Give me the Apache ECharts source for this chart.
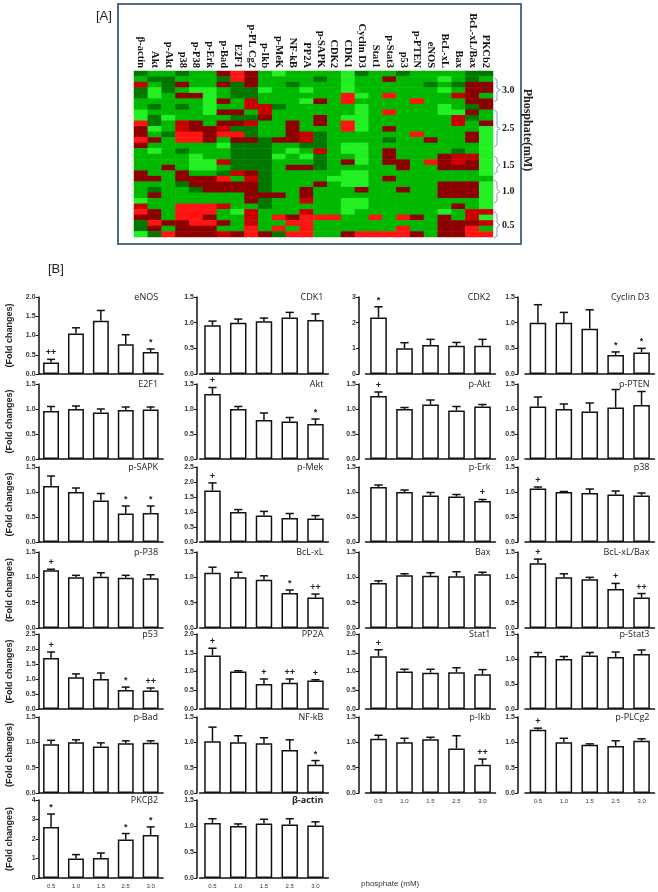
<!DOCTYPE html>
<html><head><meta charset="utf-8">
<script src="https://cdn.jsdelivr.net/npm/echarts@6.0.0/dist/echarts.min.js"></script>
<style>html,body{margin:0;padding:0;background:#fff}#c{width:658px;height:892px}</style>
</head><body><div id="c"></div><script>
// ---------- DATA ----------
const doses = ['0.5','1.0','1.5','2.5','3.0'];
const panelNames = ['eNOS','CDK1','CDK2','Cyclin D3','E2F1','Akt','p-Akt','p-PTEN','p-SAPK','p-Mek','p-Erk','p38','p-P38','BcL-xL','Bax','BcL-xL/Bax','p53','PP2A','Stat1','p-Stat3','p-Bad','NF-kB','p-Ikb','p-PLCg2','PKCβ2','β-actin'];
const barMeans = [
  [0.30,1.05,1.38,0.77,0.57],[0.95,1.00,1.03,1.10,1.05],[2.20,1.00,1.13,1.10,1.10],[1.00,1.00,0.88,0.37,0.42],
  [0.96,1.00,0.93,0.98,0.99],[1.30,1.00,0.78,0.75,0.70],[1.26,1.00,1.09,0.97,1.05],[1.05,1.00,0.95,1.03,1.08],
  [1.12,1.00,0.83,0.57,0.58],[1.72,1.00,0.88,0.80,0.78],[1.10,1.00,0.93,0.91,0.82],[1.07,1.00,0.98,0.95,0.93],
  [1.14,1.00,1.01,0.99,0.98],[1.09,1.00,0.95,0.69,0.60],[0.89,1.04,1.03,1.02,1.06],[1.28,1.00,0.96,0.77,0.60],
  [1.70,1.06,1.00,0.63,0.62],[1.43,1.00,0.67,0.70,0.76],[1.41,1.00,0.97,0.98,0.93],[1.06,1.00,1.07,1.04,1.10],
  [0.96,1.00,0.92,0.98,0.99],[1.02,1.00,0.98,0.85,0.56],[1.07,1.00,1.06,0.88,0.56],[1.25,1.00,0.95,0.93,1.03],
  [2.62,1.00,1.02,1.97,2.20],[1.06,1.00,1.05,1.03,1.01]
];
const barErrors = [
  [0.08,0.15,0.27,0.25,0.08],[0.08,0.07,0.06,0.10,0.12],[0.42,0.22,0.22,0.13,0.25],[0.35,0.20,0.37,0.06,0.08],
  [0.09,0.06,0.07,0.06,0.05],[0.13,0.05,0.14,0.08,0.10],[0.08,0.03,0.09,0.08,0.04],[0.19,0.10,0.17,0.36,0.27],
  [0.20,0.08,0.14,0.15,0.14],[0.25,0.08,0.14,0.15,0.10],[0.04,0.04,0.06,0.04,0.03],[0.03,0.01,0.08,0.07,0.05],
  [0.02,0.04,0.08,0.05,0.07],[0.11,0.10,0.08,0.06,0.07],[0.04,0.03,0.06,0.09,0.04],[0.08,0.07,0.04,0.11,0.08],
  [0.20,0.11,0.20,0.10,0.08],[0.19,0.02,0.13,0.10,0.02],[0.17,0.06,0.09,0.12,0.12],[0.07,0.05,0.06,0.10,0.08],
  [0.08,0.05,0.07,0.05,0.04],[0.28,0.13,0.11,0.20,0.08],[0.07,0.08,0.04,0.25,0.11],[0.03,0.08,0.02,0.10,0.04],
  [0.66,0.20,0.26,0.31,0.42],[0.08,0.04,0.08,0.11,0.07]
];
const barSigns = [
  ['++','','','','*'],['','','','',''],['*','','','',''],['','','','*','*'],
  ['','','','',''],['+','','','','*'],['+','','','',''],['','','','',''],
  ['','','','*','*'],['+','','','',''],['','','','','+'],['+','','','',''],
  ['+','','','',''],['','','','*','++'],['','','','',''],['+','','','+','++'],
  ['+','','','*','++'],['+','','+','++','+'],['+','','','',''],['','','','',''],
  ['','','','',''],['','','','','*'],['','','','','++'],['+','','','',''],
  ['*','','','*','*'],['','','','','']
];
const axisMax  = [2,1.5,3,1.5, 1.5,1.5,1.5,1.5, 1.5,2.5,1.5,1.5, 1.5,1.5,1.5,1.5, 2.5,2,2,1.5, 1.5,1.5,1.5,1.5, 4,1.5];
const axisStep = [0.5,0.5,1,0.5, 0.5,0.5,0.5,0.5, 0.5,0.5,0.5,0.5, 0.5,0.5,0.5,0.5, 0.5,0.5,0.5,0.5, 0.5,0.5,0.5,0.5, 1,0.5];

const heatGenes = ['β-actin','Akt','p-Akt','p38','p-P38','p-Erk','p-Bad','E2F1','p-PL Cg2','p-Ikb','p-MeK','NF-kB','PP2A','p-SAPK','CDK2','CDK1','Cyclin D3','Stat1','p-Stat3','p53','p-PTEN','eNOS','BcL-xL','Bax','BcL-xL/Bax','PKCb2'];
const heatValues = [
 [-1,-2,-2,-1,-2,-2, 1, 3, 1,-2,-3,-2,-2,-2,-2,-3,-1,-2,-2,-1,-2,-2,-2,-2,-1,-1],
 [-2,-1,-1,-2,-2,-2,-1, 3, 1,-2,-2,-2,-2,-1,-2,-3,-2,-2, 1,-2,-2,-2,-3,-2,-1,-2],
 [ 2,-2,-1, 1,-2,-2, 1,-1, 1,-2,-2,-1,-2,-2,-2,-3,-2,-2,-2,-2,-2,-1,-2,-1, 1, 1],
 [-1,-3,-1,-2,-3,-3,-2,-1,-1,-3,-2,-2,-3,-2,-2,-3,-2,-2,-2,-2,-2,-2,-3,-2, 1, 1],
 [-1,-3,-2, 1, 1,-3,-2,-1,-1,-2,-2,-2,-2,-2,-2, 3,-3,-2, 3,-2,-2,-2,-2, 2, 1,-2],
 [-2,-2,-2,-2,-2,-3, 1,-2, 2,-2,-2,-2,-3, 1,-2, 3,-2,-2,-2,-2, 3,-2,-2,-2, 1, 1],
 [-2,-1,-2,-1,-2,-3,-2,-2, 2, 2,-1,-2,-2,-2,-2,-2,-3,-2,-2,-2,-2,-2,-3,-2,-1, 1],
 [-3,-2,-2,-2,-2,-3, 1, 1,-2, 2,-2,-2,-2,-2,-2,-2,-3,-2, 3,-2,-2,-2,-3,-3, 1,-2],
 [-3,-1,-3,-2,-2,-2,-2,-1,-1, 1,-2,-2,-2, 1,-2,-3,-3,-2,-2,-2,-2,-2,-2, 2,-1,-2],
 [ 3,-1,-2, 2, 1,-2, 1, 1, 2,-2,-2, 1,-2, 1,-2, 3,-3,-2,-2,-2,-2,-2,-2, 2,-2, 1],
 [ 1,-3,-2, 2, 1, 1, 2,-1,-1,-2,-2, 1,-2,-2,-2, 3,-3,-2, 1,-2,-2,-2,-2,-2,-2,-3],
 [ 1,-2,-1, 3, 3, 1, 3, 3,-1,-2,-2, 1, 2,-1,-2,-2,-2,-2,-2,-2, 3,-2,-2,-2, 1,-3],
 [ 3, 1,-2, 3, 3, 1,-2, 1, 1,-1, 1, 1, 2,-1,-2,-2,-2,-2,-1,-2,-2, 1,-2,-2, 1,-3],
 [ 1,-2,-2,-2,-2,-2,-3,-1,-1,-1,-2,-2,-1,-1,-2,-3,-3,-2,-2,-2,-2,-2,-2,-2,-2,-3],
 [-2,-3,-2,-1,-2,-2,-2,-1,-1,-1,-2,-3,-2, 2,-2,-3,-3,-2, 1,-2,-2,-2,-2,-1,-2,-3],
 [-2,-2,-2,-2,-3,-2,-2,-1,-1,-1,-3,-2,-3,-1,-2,-2,-3,-2, 1,-2,-2,-2, 1, 2, 2,-3],
 [-2,-2,-2,-2,-3,-3, 2,-1,-1,-1,-2,-2,-2,-1,-2, 1,-3,-2, 1, 1,-2, 3, 1, 2, 1,-3],
 [-2,-2, 1,-2,-3,-3,-2,-1,-1,-1,-2, 1, 1,-1,-2,-2,-2,-2,-2, 1,-2,-2, 1, 1, 1,-3],
 [ 1,-2,-2, 1,-2,-2,-1, 2, 1,-1,-2,-2,-2,-2,-2,-3,-3,-2,-2,-2,-2,-2,-2,-2,-2,-3],
 [ 1, 1,-2, 1, 1, 1, 3,-2, 2,-1,-2,-2,-2,-2,-3,-3,-3,-2, 1,-2,-2,-2,-2,-2,-2,-2],
 [-2,-2,-2,-1, 1, 1, 1, 1, 1,-1,-2,-2,-2, 1,-2,-3,-3,-2,-2,-2,-2,-2, 1, 1, 1,-3],
 [-2,-1,-2,-2,-1, 1, 1, 1, 1,-1,-2,-2, 1,-2,-2,-2, 1,-2,-2, 1,-2,-2, 1, 1, 1,-3],
 [-2, 1,-2,-2,-2,-2,-2,-2, 1, 1, 1,-2, 1,-2,-2,-2,-2,-2,-2,-2,-2,-2, 1, 1, 1,-3],
 [-3,-2,-2,-2,-2,-2,-2,-2, 1,-1,-2,-2, 2,-2,-2,-3,-3,-2,-2,-2,-2,-2,-2,-2,-2,-3],
 [ 2,-2,-2, 3, 3, 3, 2,-2,-2,-1,-2,-2,-2,-2,-2,-3,-3,-2,-2,-2,-2,-2,-2, 1,-2,-3],
 [ 3, 1,-2, 3, 3, 3,-2,-3, 2,-2,-2,-2, 2,-2,-2,-3,-2,-2,-2,-2,-2,-2,-3,-2, 2, 2],
 [ 1, 1,-2, 3, 3, 1,-2,-2, 2,-2, 3, 1, 3, 3, 3,-2,-2, 3,-2, 3, 1,-2, 1,-2, 2,-3],
 [-1, 3, 1, 1, 3, 3, 1,-2, 2,-2,-2, 3, 3,-2,-2,-2,-2,-2,-2,-2,-2,-2, 1, 1, 1, 2],
 [-1, 1,-2, 1, 1, 1,-2,-2, 3,-2, 3,-2, 3,-2,-2,-2,-2,-2,-2, 3,-2,-2, 1, 1, 3,-2],
 [-3,-1, 3, 1, 1, 1, 2, 1, 3, 1,-1, 3, 3,-2,-2, 1, 3, 3, 3, 3, 1,-2, 1, 1, 3, 3]
];
const doseGroups = ['3.0','2.5','1.5','1.0','0.5'];

// ---------- LAYOUT ----------
const colLeft = [38.6, 199.6, 365.5, 525];
const colWidth = [124.5, 128.75, 130, 129.5];
const colAxisOffset = [0, 2.6, 6.5, 7];
const rowTop = [297, 384, 467, 552, 634, 717, 800];
const rowZero = [374, 459, 542, 628, 709, 793, 878];
const showXLabels = {22:true, 23:true, 24:true, 25:true};

const grids = [], xAxes = [], yAxes = [], series = [], titles = [];

// heatmap (index 0)
const heatData = [];
heatValues.forEach((row, r) => row.forEach((v, c) => heatData.push([c, r, v])));
grids.push({left:134, top:71, width:359, height:166});
xAxes.push({gridIndex:0, type:'category', data:heatGenes, position:'top',
  axisLine:{show:false}, axisTick:{show:false}, splitLine:{show:false},
  axisLabel:{rotate:90, interval:0, margin:3, fontFamily:'Liberation Serif', fontWeight:'bold', fontSize:10.5, color:'#111'}});
yAxes.push({gridIndex:0, type:'category', inverse:true, show:false, data:heatValues.map((_, i) => String(i))});
series.push({type:'heatmap', xAxisIndex:0, yAxisIndex:0, data:heatData, silent:true, itemStyle:{borderWidth:0}, progressive:0});

panelNames.forEach((name, i) => {
  const r = Math.floor(i / 4), c = i % 4;
  const gi = i + 1;
  const top = rowTop[r], h = rowZero[r] - rowTop[r];
  grids.push({left:colLeft[c], top:top, width:colWidth[c], height:h});
  xAxes.push({gridIndex:gi, type:'category', data:doses,
    axisLine:{lineStyle:{color:'#111', width:1.5}},
    axisTick:{alignWithLabel:true, length:3, lineStyle:{color:'#111', width:1}},
    axisLabel:{show:!!showXLabels[i], fontSize:6, color:'#333', margin:5, fontFamily:'Liberation Sans'}});
  const step = axisStep[i];
  yAxes.push({gridIndex:gi, type:'value', min:0, max:axisMax[i], interval:step, offset:colAxisOffset[c],
    splitLine:{show:false},
    axisLine:{show:true, lineStyle:{color:'#111', width:1.5}},
    axisTick:{show:true, length:3, lineStyle:{color:'#111', width:1}},
    axisLabel:{fontSize:7, fontWeight:'bold', color:'#333', margin:3, fontFamily:'Liberation Sans',
      formatter: v => step >= 1 ? String(v) : v.toFixed(1)},
    name: c === 0 ? '(Fold changes)' : '', nameLocation:'middle', nameRotate:90, nameGap:25,
    nameTextStyle:{fontSize:9, fontWeight:'bold', color:'#222', fontFamily:'Liberation Sans'}});
  titles.push({text:name, right:658 - (colLeft[c] + colWidth[c]) + 5, top:top - 4, padding:0,
    textStyle:{fontSize:9, fontWeight: name === 'β-actin' ? 'bold' : 'normal', color:'#222', fontFamily:'Open Sans'}});
  series.push({type:'bar', xAxisIndex:gi, yAxisIndex:gi, data:barMeans[i], barWidth:'64%', silent:true,
    itemStyle:{color:'#fff', borderColor:'#111', borderWidth:1.5}});
  const errData = barMeans[i].map((m, k) => [k, m, barErrors[i][k]]);
  const signs = barSigns[i];
  series.push({type:'custom', xAxisIndex:gi, yAxisIndex:gi, data:errData, silent:true, z:5,
    renderItem: function(params, api) {
      const x = api.value(0), m = api.value(1), e = api.value(2);
      const p0 = api.coord([x, m]), p1 = api.coord([x, m + e]);
      const hw = api.size([1, 0])[0] * 0.16;
      const st = {stroke:'#111', lineWidth:1.5};
      const children = [
        {type:'line', shape:{x1:p0[0], y1:p0[1], x2:p1[0], y2:p1[1]}, style:st},
        {type:'line', shape:{x1:p1[0]-hw, y1:p1[1], x2:p1[0]+hw, y2:p1[1]}, style:st}
      ];
      const s = signs[params.dataIndex];
      if (s) children.push({type:'text', style:{text:s, x:p1[0], y:p1[1] - 2, align:'center', verticalAlign:'bottom',
        fontSize:9, fill:'#222', fontFamily:'Liberation Sans', fontWeight:'bold'}});
      return {type:'group', children:children};
    }});
});

// brackets for heatmap
const bracketSpans = [[78,102],[110,147],[156,174],[180,203],[212,238]];
const graphics = [
  {type:'rect', shape:{x:118, y:4, width:403, height:240}, style:{fill:'none', stroke:'#4f6d8f', lineWidth:2}, silent:true},
  {type:'text', style:{text:'[A]', x:96, y:10, fontSize:13, fill:'#222', fontFamily:'Liberation Sans'}, silent:true},
  {type:'text', style:{text:'[B]', x:48, y:263, fontSize:13, fill:'#222', fontFamily:'Liberation Sans'}, silent:true},
  {type:'text', style:{text:'phosphate (mM)', x:361, y:880, fontSize:8, fill:'#333', fontFamily:'Liberation Sans'}, silent:true},
  {type:'text', rotation:-Math.PI/2, x:533, y:130, style:{text:'Phosphate(mM)', x:0, y:0, align:'center', verticalAlign:'top',
    fontSize:12, fontWeight:'bold', fill:'#222', fontFamily:'Liberation Serif'}, silent:true}
];
bracketSpans.forEach((sp, i) => {
  const y1 = sp[0], y2 = sp[1], ym = (y1 + y2) / 2;
  graphics.push({type:'polyline', shape:{points:[[494,y1],[497,y1+2],[497,ym-2],[500,ym],[497,ym+2],[497,y2-2],[494,y2]]},
    style:{stroke:'#7f9cc0', lineWidth:1, fill:'none'}, silent:true});
  graphics.push({type:'text', style:{text:doseGroups[i], x:502, y:ym, verticalAlign:'middle', fontSize:10, fontWeight:'bold',
    fill:'#222', fontFamily:'Liberation Serif'}, silent:true});
});

const chart = echarts.init(document.getElementById('c'), null, {renderer:'canvas'});
chart.setOption({
  animation:false,
  backgroundColor:'#fff',
  title:titles,
  grid:grids, xAxis:xAxes, yAxis:yAxes, series:series,
  visualMap:{type:'piecewise', show:false, seriesIndex:0, pieces:[
    {value:-3, color:'#22f022'}, {value:-2, color:'#00b800'}, {value:-1, color:'#007800'},
    {value:1, color:'#8c0000'}, {value:2, color:'#c80000'}, {value:3, color:'#ff1414'}]},
  graphic:graphics
});
</script></body></html>
